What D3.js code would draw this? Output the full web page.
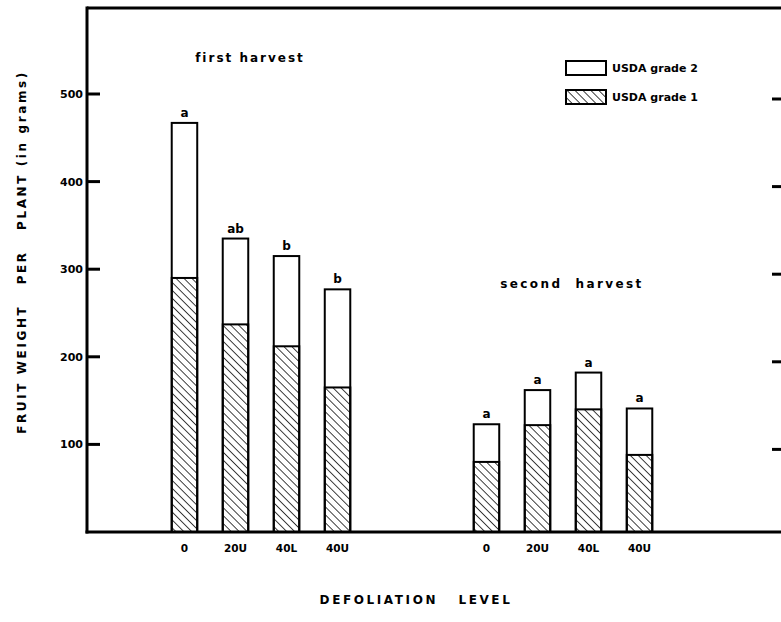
<!DOCTYPE html>
<html>
<head>
<meta charset="utf-8">
<script src="https://cdnjs.cloudflare.com/ajax/libs/d3/7.8.5/d3.min.js"></script>
<style>
  body { margin: 0; background: #fff; }
  text { font-family: "DejaVu Sans", sans-serif; font-weight: bold; fill: #000; }
</style>
</head>
<body>
<div id="chart"></div>
<script>
// Data (grams per plant)
const harvests = ["first harvest", "second harvest"];
const levels = ["0", "20U", "40L", "40U"];
const totalFirst = [467, 335, 315, 277];
const grade1First = [290, 237, 212, 165];
const lettersFirst = ["a", "ab", "b", "b"];
const totalSecond = [123, 162, 182, 141];
const grade1Second = [80, 122, 140, 88];
const lettersSecond = ["a", "a", "a", "a"];
const yTicks = [100, 200, 300, 400, 500];

const W = 781, H = 622;
const svg = d3.select("#chart").append("svg")
    .attr("width", W)
    .attr("height", H);

// hatch for USDA grade 1 (lines running top-left to bottom-right)
const defs = svg.append("defs");
defs.append("pattern")
    .attr("id", "hatch")
    .attr("patternUnits", "userSpaceOnUse")
    .attr("width", 5.6)
    .attr("height", 5.6)
    .attr("patternTransform", "rotate(-45)")
  .append("line")
    .attr("x1", 0).attr("y1", 0)
    .attr("x2", 0).attr("y2", 5.6)
    .attr("stroke", "#000")
    .attr("stroke-width", 1.5);

const plotLeft = 87, plotTop = 8, plotBottom = 532;

const y = d3.scaleLinear()
    .domain([0, 500])
    .range([plotBottom, 94]);

const xOuter = d3.scaleBand()
    .domain(harvests)
    .range([110, 714]);

const xInner = d3.scaleBand()
    .domain(levels)
    .range([0, xOuter.bandwidth()])
    .paddingInner(0.5)
    .paddingOuter(1.21);

const rows = [];
harvests.forEach((h, hi) => {
    const tot = hi === 0 ? totalFirst : totalSecond;
    const g1 = hi === 0 ? grade1First : grade1Second;
    const lt = hi === 0 ? lettersFirst : lettersSecond;
    levels.forEach((l, i) => {
        rows.push({ harvest: h, level: l, total: tot[i], grade1: g1[i], letter: lt[i] });
    });
});

const barX = d => xOuter(d.harvest) + xInner(d.level);
const bw = xInner.bandwidth();

// frame: top line
svg.append("line")
    .attr("x1", plotLeft).attr("x2", W).attr("y1", plotTop).attr("y2", plotTop)
    .attr("stroke", "#000").attr("stroke-width", 3);

// y axis labels
svg.append("g")
    .attr("transform", `translate(${plotLeft},0)`)
    .call(d3.axisLeft(y).tickValues(yTicks).tickSize(0).tickPadding(4))
    .call(g => g.select(".domain").remove())
    .call(g => g.selectAll(".tick text")
        .attr("font-size", 11)
        .attr("font-family", "DejaVu Sans")
        .attr("font-weight", "bold"));

// y ticks pointing into the plot
svg.append("g")
    .selectAll("line")
    .data(yTicks)
    .join("line")
    .attr("x1", plotLeft).attr("x2", plotLeft + 13)
    .attr("y1", d => y(d)).attr("y2", d => y(d))
    .attr("stroke", "#000").attr("stroke-width", 3);

svg.append("line")
    .attr("x1", plotLeft).attr("x2", plotLeft).attr("y1", plotTop - 1.5).attr("y2", plotBottom + 1.5)
    .attr("stroke", "#000").attr("stroke-width", 3);

// small ticks on the right edge
svg.append("g")
    .selectAll("line")
    .data(yTicks)
    .join("line")
    .attr("x1", 772).attr("x2", 781)
    .attr("y1", d => y(d) + 5).attr("y2", d => y(d) + 5)
    .attr("stroke", "#000").attr("stroke-width", 3);

// bars: grade 2 (white) on top of grade 1 (hatched)
const bars = svg.append("g");
bars.selectAll(".total")
    .data(rows)
    .join("rect")
    .attr("class", "total")
    .attr("x", barX)
    .attr("y", d => y(d.total))
    .attr("width", bw)
    .attr("height", d => y(0) - y(d.total))
    .attr("fill", "#fff")
    .attr("stroke", "#000")
    .attr("stroke-width", 2);

bars.selectAll(".g1")
    .data(rows)
    .join("rect")
    .attr("class", "g1")
    .attr("x", barX)
    .attr("y", d => y(d.grade1))
    .attr("width", bw)
    .attr("height", d => y(0) - y(d.grade1))
    .attr("fill", "url(#hatch)")
    .attr("stroke", "#000")
    .attr("stroke-width", 2);

bars.selectAll(".letter")
    .data(rows)
    .join("text")
    .attr("class", "letter")
    .attr("x", d => barX(d) + bw / 2)
    .attr("y", d => y(d.total) - 6)
    .attr("text-anchor", "middle")
    .attr("font-size", 12)
    .text(d => d.letter);

// bottom axis line
svg.append("line")
    .attr("x1", plotLeft - 1.5).attr("x2", W).attr("y1", plotBottom).attr("y2", plotBottom)
    .attr("stroke", "#000").attr("stroke-width", 3);

// x tick labels
svg.append("g")
    .selectAll("text")
    .data(rows)
    .join("text")
    .attr("x", d => barX(d) + bw / 2)
    .attr("y", 552)
    .attr("text-anchor", "middle")
    .attr("font-size", 10.5)
    .text(d => d.level);

// harvest titles
svg.append("text")
    .attr("x", 250).attr("y", 62)
    .attr("text-anchor", "middle")
    .attr("font-size", 12)
    .attr("letter-spacing", 2)
    .text("first harvest");

svg.append("text")
    .attr("x", 572).attr("y", 288)
    .attr("text-anchor", "middle")
    .attr("font-size", 12)
    .attr("letter-spacing", 2.4)
    .attr("xml:space", "preserve")
    .text("second  harvest");

// legend
const legend = svg.append("g").attr("transform", "translate(566,61)");
const legendItems = [
    { label: "USDA grade 2", fill: "#fff" },
    { label: "USDA grade 1", fill: "url(#hatch)" }
];
const li = legend.selectAll("g")
    .data(legendItems)
    .join("g")
    .attr("transform", (d, i) => `translate(0,${i * 29})`);
li.append("rect")
    .attr("width", 40).attr("height", 14)
    .attr("fill", d => d.fill)
    .attr("stroke", "#000").attr("stroke-width", 2);
li.append("text")
    .attr("x", 46).attr("y", 11)
    .attr("font-size", 11)
    .text(d => d.label);

// axis titles
svg.append("text")
    .attr("transform", "translate(26,252) rotate(-90)")
    .attr("text-anchor", "middle")
    .attr("font-size", 12)
    .attr("letter-spacing", 2.6)
    .attr("xml:space", "preserve")
    .text("FRUIT WEIGHT   PER   PLANT (in grams)");

svg.append("text")
    .attr("x", 416).attr("y", 604)
    .attr("text-anchor", "middle")
    .attr("font-size", 12)
    .attr("letter-spacing", 2.6)
    .attr("xml:space", "preserve")
    .text("DEFOLIATION   LEVEL");
</script>
</body>
</html>
